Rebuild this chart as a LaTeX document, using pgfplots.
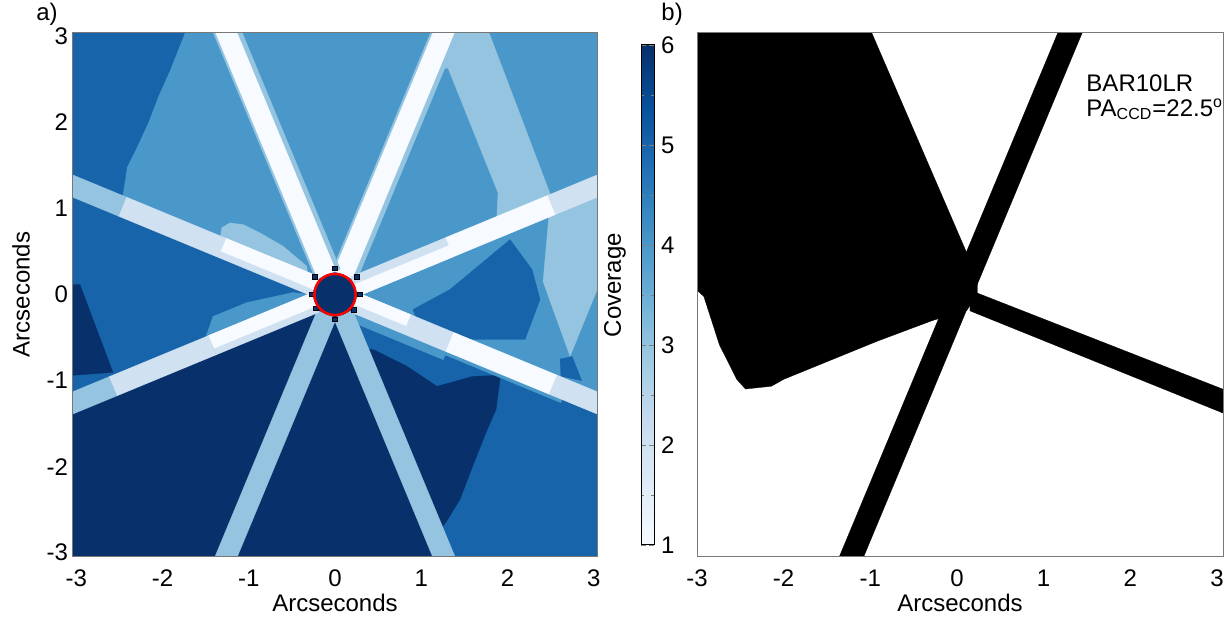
\documentclass[border=0pt]{standalone}
\usepackage{pgfplots}
\pgfplotsset{compat=1.18}
\usepackage{fontspec}
\setmainfont{Liberation Sans}
\definecolor{cA}{RGB}{247,251,255}
\definecolor{cB}{RGB}{208,225,242}
\definecolor{cC}{RGB}{148,196,223}
\definecolor{cD}{RGB}{74,152,201}
\definecolor{cE}{RGB}{23,100,171}
\definecolor{cF}{RGB}{8,48,107}
\definecolor{frame}{RGB}{120,120,120}
\begin{document}
\begin{tikzpicture}[font=\fontsize{12}{12.5}\selectfont]
\useasboundingbox (0,0) rectangle (616pt,310.5pt);
\pgfplotsset{
  panel/.style={scale only axis, width=263pt, height=262.5pt, axis on top,
    axis line style={frame, line width=0.5pt}, major tick length=0pt,
    ymin=-3.05, ymax=3.05, xtick={-3,-2,-1,0,1,2,3},
    /pgf/number format/assume math mode=true,
    tick label style={font=\fontsize{12}{12.5}\selectfont},
    xticklabel style={yshift=-3pt},
    label style={font=\fontsize{12}{12.5}\selectfont}},
  poly/.style={draw=#1, line width=0.15pt, fill=#1},
}
% ---------------- panel a ----------------
\begin{axis}[panel, at={(36pt,32pt)}, anchor=south west,
  xmin=-3.05, xmax=3.05, ytick={-3,-2,-1,0,1,2,3}, yticklabel style={xshift=1.5pt},
  xlabel={Arcseconds}, ylabel={Arcseconds},
  xlabel style={at={(axis description cs:0.5,-0.0876)}, anchor=center},
  ylabel style={at={(axis description cs:-0.097,0.5)}, anchor=center}]
% sector backgrounds
\addplot[poly=cF] coordinates {(-3.2,-3.2) (3.2,-3.2) (3.2,3.2) (-3.2,3.2)} -- cycle;
\addplot[poly=cD] coordinates {(0,0) (3.2,-1.3255) (3.2,3.2) (-3.2,3.2) (-3.2,1.3255)} -- cycle;
\addplot[poly=cE] coordinates {(0,0) (-3.2,1.3255) (-3.2,-1.3255)} -- cycle;
\addplot[poly=cE] coordinates {(0,0) (3.2,-1.3255) (3.2,-3.2) (1.3255,-3.2)} -- cycle;
% patches
\addplot[poly=cE] coordinates {(-1.70,3.2) (-1.74,3.05) (-1.914,2.610) (-2.053,2.297) (-2.169,1.995) (-2.297,1.717) (-2.413,1.485) (-2.459,1.183) (-2.5,0.9) (-3.2,0.9) (-3.2,3.2)} -- cycle;
\addplot[poly=cC] coordinates {(-1.314,0.774) (-1.218,0.832) (-1.064,0.812) (-0.870,0.716) (-0.600,0.560) (-0.328,0.328) (-0.3,0.1) (-1.35,0.5)} -- cycle;
\addplot[poly=cC] coordinates {(1.25,3.2) (1.727,3.2) (2.491,1.180) (2.55,1.056) (1.87,0.775) (1.891,1.180) (1.311,2.630) (1.15,2.63)} -- cycle;
\addplot[poly=cE] coordinates {(2.030,0.638) (1.682,0.348) (1.334,0.058) (0.905,-0.174) (0.986,-0.406) (1.566,-0.522) (2.204,-0.522) (2.378,-0.058) (2.285,0.290)} -- cycle;
\addplot[poly=cC] coordinates {(2.494,1.067) (3.2,1.2) (3.2,0.45) (2.726,-0.719) (2.413,0.151)} -- cycle;
\addplot[poly=cE] coordinates {(2.61,-0.75) (2.75,-0.72) (2.86,-1.0) (2.62,-0.95)} -- cycle;
\addplot[poly=cF] coordinates {(-3.2,0.116) (-2.958,0.116) (-2.575,-0.905) (-3.2,-0.95)} -- cycle;
\addplot[poly=cD] coordinates {(-1.5,-0.5) (-1.415,-0.255) (-1.021,-0.093) (-0.487,0.023) (-0.3,0.0) (-0.3,-0.15)} -- cycle;
\addplot[poly=cF] coordinates {(0.39,-0.638) (0.441,-0.638) (0.835,-0.835) (1.183,-1.067) (1.601,-0.951) (1.914,-0.940) (1.914,-0.986) (1.868,-1.334) (1.752,-1.601) (1.601,-1.984) (1.450,-2.378) (1.288,-2.645) (1.2,-2.75) (1.0,-2.4) (0.2,-0.5)} -- cycle;
\addplot[poly=cD] coordinates {(0.239,-0.207) (1.302,-0.647) (1.256,-0.758) (0.193,-0.318)} -- cycle;
\addplot[poly=cD] coordinates {(1.3014,-0.6473) (2.6410,-1.2022) (2.6181,-1.2576) (1.2785,-0.7027)} -- cycle;
% steep bars
\addplot[poly=cC] coordinates {(0.2528,0.1659) (1.5348,3.2609) (1.2484,3.3796) (-0.0336,0.2846)} -- cycle;
\addplot[poly=cA] coordinates {(0.2019,0.1870) (1.4839,3.2820) (1.2715,3.3700) (-0.0105,0.2750)} -- cycle;
\addplot[poly=cC] coordinates {(0.0614,0.2961) (-1.2206,3.3911) (-1.5070,3.2724) (-0.2250,0.1774)} -- cycle;
\addplot[poly=cA] coordinates {(0.0105,0.2750) (-1.2715,3.3700) (-1.4839,3.2820) (-0.2019,0.1870)} -- cycle;
\addplot[poly=cC] coordinates {(0.0152,-0.2769) (-1.2668,-3.3719) (-1.4886,-3.2801) (-0.2066,-0.1851)} -- cycle;
\addplot[poly=cC] coordinates {(0.2066,-0.1851) (1.4886,-3.2801) (1.2668,-3.3719) (-0.0152,-0.2769)} -- cycle;
% shallow band, upper right
\addplot[poly=cB] coordinates {(0.1851,0.2066) (1.2845,0.6620) (1.3763,0.4402) (0.2769,-0.0152)} -- cycle;
\addplot[poly=cA] coordinates {(0.2769,-0.0152) (1.3763,0.4402) (1.3227,0.5696) (0.2233,0.1142)} -- cycle;
\addplot[poly=cA] coordinates {(1.2845,0.6620) (2.4671,1.1518) (2.5589,0.9300) (1.3763,0.4402)} -- cycle;
\addplot[poly=cB] coordinates {(2.4671,1.1518) (3.2801,1.4886) (3.3719,1.2668) (2.5589,0.9300)} -- cycle;
% shallow band, upper left
\addplot[poly=cB] coordinates {(-0.2769,-0.0152) (-1.3578,0.4325) (-1.2660,0.6543) (-0.1851,0.2066)} -- cycle;
\addplot[poly=cA] coordinates {(-0.1851,0.2066) (-1.2660,0.6543) (-1.3272,0.5064) (-0.2463,0.0587)} -- cycle;
\addplot[poly=cB] coordinates {(-1.3578,0.4325) (-2.5127,0.9109) (-2.4209,1.1327) (-1.2660,0.6543)} -- cycle;
\addplot[poly=cC] coordinates {(-2.5127,0.9109) (-3.3719,1.2668) (-3.2801,1.4886) (-2.4209,1.1327)} -- cycle;
% shallow band, lower left
\addplot[poly=cB] coordinates {(-0.1851,-0.2066) (-1.3769,-0.7003) (-1.4687,-0.4785) (-0.2769,0.0152)} -- cycle;
\addplot[poly=cA] coordinates {(-0.2769,0.0152) (-1.4687,-0.4785) (-1.4075,-0.6264) (-0.2157,-0.1327)} -- cycle;
\addplot[poly=cB] coordinates {(-1.3769,-0.7003) (-2.5318,-1.1786) (-2.6236,-0.9568) (-1.4687,-0.4785)} -- cycle;
\addplot[poly=cC] coordinates {(-2.5318,-1.1786) (-3.2801,-1.4886) (-3.3719,-1.2668) (-2.6236,-0.9568)} -- cycle;
% shallow band, lower right
\addplot[poly=cB] coordinates {(0.2769,0.0152) (1.3763,-0.4402) (1.2845,-0.6620) (0.1851,-0.2066)} -- cycle;
\addplot[poly=cA] coordinates {(0.2769,0.0152) (0.8774,-0.2335) (0.8238,-0.3629) (0.2233,-0.1142)} -- cycle;
\addplot[poly=cA] coordinates {(1.3763,-0.4402) (2.5774,-0.9377) (2.4856,-1.1595) (1.2845,-0.6620)} -- cycle;
\addplot[poly=cB] coordinates {(2.5774,-0.9377) (3.3719,-1.2668) (3.2801,-1.4886) (2.4856,-1.1595)} -- cycle;
% centre
\addplot[only marks, mark=square*, mark size=1.1pt, mark options={draw=none, fill=cF}] coordinates {(0,0.3) (-0.232,0.205) (0.252,0.205) (-0.27,0) (0.29,0) (-0.22,-0.16) (0.22,-0.18) (0,-0.29)};
\addplot[only marks, mark=*, mark size=10.6pt, mark options={draw=none, fill=cF}] coordinates {(0,0)};
\addplot[only marks, mark=o, mark size=10.3pt, mark options={draw=red, line width=1.25pt}] coordinates {(0,0)};
\end{axis}
\node[anchor=base west, inner sep=0pt] at (18pt,300pt) {a)};
% ---------------- colorbar ----------------
\begin{axis}[at={(320.5pt,38pt)}, anchor=south west, scale only axis, width=6.5pt, height=250pt,
  xmin=0, xmax=1, ymin=1, ymax=6, xtick=\empty, ytick={1,2,3,4,5,6},
  minor ytick={1.5,2.5,3.5,4.5,5.5},
  yticklabel pos=right, tick align=inside, major tick length=2.5pt, minor tick length=1.5pt,
  axis line style={black, line width=0.5pt},
  /pgf/number format/assume math mode=true,
  tick label style={font=\fontsize{12}{12.5}\selectfont},
  colormap={blues}{rgb255=(247,251,255) rgb255=(222,235,247) rgb255=(198,219,239) rgb255=(158,202,225) rgb255=(107,174,214) rgb255=(66,146,198) rgb255=(33,113,181) rgb255=(8,81,156) rgb255=(8,48,107)},
  point meta min=1, point meta max=6, axis on top]
\addplot[surf, shader=interp, point meta=y] coordinates {(0,1) (1,1)

(0,6) (1,6)};
\end{axis}
\node[rotate=90, anchor=center] at (307.5pt,168pt) {Coverage};
% ---------------- panel b ----------------
\begin{axis}[panel, at={(348.5pt,32pt)}, anchor=south west,
  xmin=-3.0, xmax=3.07, ytick=\empty,
  xlabel={Arcseconds},
  xlabel style={at={(axis description cs:0.5,-0.0876)}, anchor=center}]
\addplot[poly=black] coordinates {(-3.2,3.2) (-1.052,3.2) (0.114,0.48) (0.234,0.2) (0.234,0.0) (0.114,-0.183) (-0.285,-0.303) (-0.924,-0.544) (-2.001,-0.986) (-2.142,-1.066) (-2.441,-1.098) (-2.541,-0.986) (-2.741,-0.585) (-2.921,-0.023) (-3.009,0.058) (-3.2,0.058)} -- cycle;
\addplot[poly=black] coordinates {(1.3026,3.3758) (1.5428,3.2762) (-1.2126,-3.3758) (-1.4528,-3.2762)} -- cycle;
\addplot[poly=black] coordinates {(0.15,0.05) (3.3,-1.191) (3.3,-1.471) (0.15,-0.19)} -- cycle;
\node[anchor=north west, align=left, inner sep=0pt] at (axis cs:1.49,2.56) {BAR10LR\\PA\textsubscript{CCD}=22.5\textsuperscript{o}};
\end{axis}
\node[anchor=base west, inner sep=0pt] at (330.5pt,300pt) {b)};
\end{tikzpicture}
\end{document}
